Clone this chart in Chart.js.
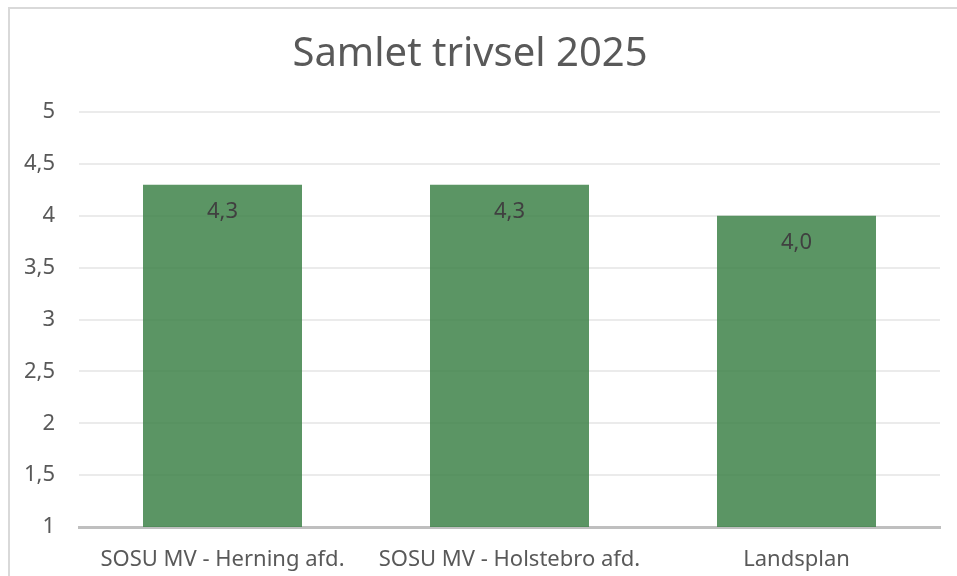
<!DOCTYPE html>
<html lang="da">
<head>
<meta charset="utf-8">
<title>Samlet trivsel 2025</title>
<script src="https://cdn.jsdelivr.net/npm/chart.js@4"></script>
<style>
    html, body { margin: 0; padding: 0; background: #ffffff; overflow: hidden; }
    #wrap { position: relative; width: 957px; height: 576px; }
    #grafico { position: absolute; left: 0; top: 0; }
    #moldura {
        position: absolute; left: 8px; top: 7px; width: 1000px; height: 1000px;
        border: 2px solid #d9d9d9; pointer-events: none;
    }
</style>
</head>
<body>
<div id="wrap">
    <canvas id="grafico" width="957" height="576"></canvas>
    <div id="moldura"></div>
</div>
<script>
// Dados do gráfico
const categorias = ['SOSU MV - Herning afd.', 'SOSU MV - Holstebro afd.', 'Landsplan'];
const valores = [4.3, 4.3, 4.0];
const ticksY = [1, 1.5, 2, 2.5, 3, 3.5, 4, 4.5, 5];

const fonte = "'Noto Sans', 'Open Sans', sans-serif";

// Formatar número com vírgula
const formatarNumero = (v, casas) => (casas === undefined ? String(v) : v.toFixed(casas)).replace('.', ',');

// Plugin para rótulos de dados dentro das barras
const rotulosBarras = {
    id: 'rotulosBarras',
    afterDatasetsDraw: (chart) => {
        const ctx = chart.ctx;
        const meta = chart.getDatasetMeta(0);
        ctx.save();
        ctx.font = `22px ${fonte}`;
        ctx.fillStyle = '#404040';
        ctx.textAlign = 'center';
        ctx.textBaseline = 'middle';
        meta.data.forEach((barra, i) => {
            ctx.fillText(formatarNumero(valores[i], 1), barra.x, barra.y + 27);
        });
        ctx.restore();
    }
};

const ctx = document.getElementById('grafico').getContext('2d');

// Criar gráfico
window.graficoTrivsel = new Chart(ctx, {
    type: 'bar',
    data: {
        labels: categorias,
        datasets: [{
            data: valores,
            backgroundColor: 'rgba(62, 131, 73, 0.85)',
            borderWidth: 0,
            categoryPercentage: 1,
            barPercentage: 0.554
        }]
    },
    options: {
        responsive: false,
        animation: false,
        layout: {
            padding: { left: 0, right: 17, top: 0, bottom: 0 }
        },
        scales: {
            y: {
                min: ticksY[0],
                max: ticksY[ticksY.length - 1],
                afterBuildTicks: (escala) => {
                    escala.ticks = ticksY.map(v => ({ value: v }));
                },
                afterFit: (escala) => { escala.width = 79; },
                ticks: {
                    padding: 24,
                    color: '#595959',
                    font: { family: fonte, size: 22 },
                    callback: (v) => formatarNumero(v)
                },
                grid: {
                    color: '#ebebeb',
                    lineWidth: 2,
                    drawTicks: false
                },
                border: { display: false }
            },
            x: {
                afterFit: (escala) => { escala.height = 49; },
                ticks: {
                    padding: 20,
                    color: '#595959',
                    font: { family: fonte, size: 22 }
                },
                grid: { display: false, drawTicks: false },
                border: { color: '#bfbfbf', width: 3 }
            }
        },
        plugins: {
            legend: { display: false },
            tooltip: { enabled: false },
            title: {
                display: true,
                text: 'Samlet trivsel 2025',
                color: '#595959',
                font: { family: fonte, size: 40, weight: 'normal' },
                padding: { top: 31, bottom: 33 }
            }
        }
    },
    plugins: [rotulosBarras]
});
</script>
</body>
</html>
